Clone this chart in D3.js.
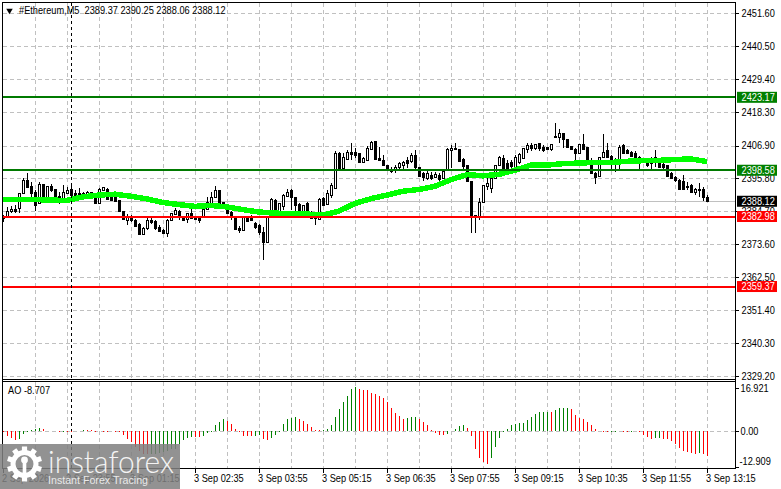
<!DOCTYPE html>
<html>
<head>
<meta charset="utf-8">
<script src="https://cdn.jsdelivr.net/npm/d3@7"></script>
<style>
  html, body { margin: 0; padding: 0; background: #fff; }
  svg { display: block; }
  text { font-family: "Liberation Sans", sans-serif; font-size: 10.6px; fill: #000; white-space: pre; }
</style>
</head>
<body>
<div id="chart"></div>
<script>
var title = "#Ethereum,M5  2389.37 2390.25 2388.06 2388.12"
var aoTitle = "AO -8.707"

// candles, 5 minute bars
var opens = [2383.1,2383.1,2384.8,2385.4,2385.8,2390.8,2395.2,2393.2,2391.2,2387.5,2393.9,2389.2,2393.2,2392.2,2389.8,2389.2,
  2390.8,2392.2,2390.8,2390.8,2390.8,2390.2,2391.2,2389.5,2387.5,2391.8,2392.2,2390.8,2390.8,2388.5,2384.8,2381.7,
  2383.1,2381.7,2380.4,2377.0,2379.0,2381.7,2381.4,2379.4,2378.4,2377.4,2381.7,2383.8,2384.8,2382.7,2382.1,2384.1,
  2382.7,2382.4,2382.7,2385.4,2387.5,2389.5,2391.8,2387.8,2385.8,2384.4,2382.7,2379.0,2378.4,2382.7,2382.4,2380.7,
  2380.0,2377.7,2374.3,2384.4,2388.5,2384.4,2386.5,2389.8,2391.8,2389.5,2387.1,2384.4,2387.5,2384.4,2383.1,2382.1,
  2389.2,2387.1,2390.2,2392.5,2404.3,2399.3,2402.3,2404.6,2404.6,2404.3,2401.3,2401.9,2405.6,2408.3,2402.6,2401.9,
  2400.3,2398.9,2398.6,2399.6,2400.3,2401.9,2401.6,2403.6,2399.6,2397.6,2395.9,2396.9,2396.2,2396.9,2395.9,2398.6,
  2405.3,2406.0,2405.6,2402.3,2400.3,2394.9,2383.4,2383.1,2387.8,2393.2,2392.5,2395.9,2400.3,2402.6,2400.9,2401.3,
  2399.6,2401.3,2402.6,2405.6,2407.0,2406.0,2407.7,2406.3,2406.3,2405.6,2410.0,2409.7,2411.0,2409.0,2406.7,2405.6,
  2404.3,2407.3,2406.3,2401.9,2397.6,2396.6,2403.0,2405.3,2403.3,2402.3,2401.9,2407.0,2405.3,2404.6,2404.3,2403.0,
  2402.3,2401.3,2402.3,2403.0,2401.3,2400.6,2400.3,2397.6,2396.2,2395.2,2394.9,2393.2,2393.5,2391.2,2392.2,2392.2,2389.37]
var highs = [2383.4,2386.1,2386.5,2386.8,2390.8,2395.9,2397.6,2394.5,2391.8,2394.5,2393.9,2393.2,2393.9,2392.2,2391.2,2393.5,
  2392.9,2393.2,2391.8,2392.5,2391.2,2391.5,2391.2,2390.2,2392.5,2392.9,2392.5,2391.2,2391.2,2388.5,2384.8,2383.8,
  2383.4,2382.1,2380.7,2379.4,2382.7,2382.7,2381.7,2380.0,2378.7,2382.1,2384.1,2385.8,2385.1,2383.1,2384.1,2385.4,
  2382.7,2382.7,2385.4,2389.5,2391.2,2393.2,2391.8,2387.8,2386.5,2384.8,2383.1,2379.7,2382.7,2383.1,2383.4,2381.1,
  2380.4,2379.4,2383.1,2389.2,2388.8,2387.5,2390.5,2392.2,2392.2,2389.5,2387.5,2386.8,2387.8,2384.8,2383.8,2389.2,
  2389.5,2391.8,2394.2,2405.0,2404.6,2404.3,2405.3,2407.7,2406.0,2404.3,2403.0,2406.7,2408.3,2408.3,2406.3,2403.6,
  2400.3,2399.6,2400.3,2401.3,2401.6,2403.0,2404.3,2405.3,2399.6,2397.9,2398.2,2397.9,2397.9,2397.6,2398.6,2406.0,
  2407.0,2407.7,2405.6,2402.6,2400.3,2394.9,2383.4,2389.2,2393.5,2395.9,2396.9,2400.3,2403.3,2403.6,2401.9,2401.9,
  2403.6,2404.3,2406.0,2407.7,2407.7,2407.3,2407.7,2407.0,2406.3,2407.3,2414.4,2412.4,2411.0,2409.0,2406.7,2406.0,
  2407.3,2410.7,2406.3,2402.6,2397.9,2403.0,2410.7,2407.7,2403.6,2402.6,2407.0,2407.3,2405.6,2405.0,2405.0,2403.3,
  2402.6,2401.9,2403.0,2405.3,2401.9,2401.9,2400.3,2397.9,2396.6,2395.5,2396.9,2394.5,2393.9,2392.5,2394.2,2392.9,2390.25]
var lows = [2381.1,2382.7,2384.1,2384.1,2384.1,2390.5,2392.5,2389.5,2384.8,2387.1,2389.2,2388.8,2391.2,2388.1,2387.1,2388.5,
  2390.5,2389.5,2389.5,2390.2,2389.8,2389.8,2389.8,2387.1,2387.1,2391.5,2388.5,2388.1,2388.1,2384.4,2381.7,2380.0,
  2381.1,2379.4,2376.7,2376.7,2378.4,2380.4,2378.4,2377.7,2377.0,2376.0,2381.4,2383.4,2381.7,2381.4,2380.7,2382.1,
  2381.7,2380.7,2382.4,2385.1,2387.1,2389.2,2387.5,2385.8,2383.8,2381.7,2378.4,2377.4,2378.0,2381.1,2381.4,2378.7,
  2376.7,2368.3,2374.3,2382.4,2382.4,2383.8,2385.1,2389.5,2385.1,2384.1,2384.1,2382.7,2383.8,2382.1,2380.0,2381.7,
  2386.8,2386.8,2389.2,2392.2,2398.6,2398.6,2401.9,2401.9,2402.6,2400.9,2400.9,2401.6,2405.3,2401.9,2401.6,2399.9,
  2398.6,2397.6,2397.6,2398.6,2398.6,2399.3,2400.9,2398.6,2396.2,2394.9,2395.2,2395.2,2395.9,2394.9,2395.5,2398.2,
  2399.3,2405.3,2401.3,2398.9,2394.9,2377.4,2377.4,2381.7,2387.5,2391.8,2390.8,2395.5,2399.9,2398.6,2398.6,2399.3,
  2399.3,2400.6,2402.3,2404.3,2405.0,2405.3,2405.0,2404.6,2405.3,2405.0,2409.4,2407.7,2406.0,2406.3,2405.3,2401.9,
  2404.0,2405.3,2401.6,2397.2,2393.9,2396.2,2402.6,2402.6,2398.9,2397.9,2398.9,2404.0,2404.0,2403.0,2402.3,2398.9,
  2401.3,2399.6,2398.9,2399.6,2399.3,2398.9,2396.2,2395.5,2394.5,2391.8,2391.8,2391.8,2390.8,2390.2,2389.5,2388.1,2388.06]
var closes = [2382.4,2384.8,2385.4,2384.8,2390.8,2395.2,2392.9,2390.8,2386.8,2393.9,2389.5,2393.2,2391.8,2388.5,2388.8,2391.2,
  2391.8,2390.2,2390.2,2390.6,2390.2,2391.2,2390.2,2387.5,2392.2,2392.9,2388.8,2388.5,2388.1,2384.8,2382.1,2383.1,
  2381.7,2379.7,2377.0,2379.0,2381.7,2381.1,2379.0,2378.0,2377.4,2381.7,2384.1,2385.1,2382.7,2381.7,2384.1,2382.4,
  2382.1,2381.7,2385.4,2387.8,2389.5,2391.8,2387.5,2386.1,2384.1,2382.7,2378.7,2378.4,2382.7,2381.4,2381.7,2379.4,
  2377.7,2374.3,2382.7,2388.8,2384.4,2387.5,2390.2,2391.2,2389.5,2386.8,2384.4,2386.8,2384.1,2382.4,2382.4,2388.8,
  2386.8,2390.8,2393.5,2404.3,2399.3,2403.0,2404.6,2404.0,2403.6,2401.3,2402.6,2406.0,2408.0,2402.3,2401.9,2400.3,
  2398.9,2398.2,2399.6,2400.9,2401.3,2400.9,2403.6,2399.6,2396.6,2396.2,2397.6,2395.9,2397.2,2395.5,2398.2,2405.6,
  2406.0,2405.6,2401.6,2399.9,2394.9,2383.1,2383.1,2387.8,2393.5,2394.2,2395.9,2400.3,2403.0,2399.3,2399.3,2399.9,
  2403.0,2404.0,2406.0,2407.0,2406.0,2407.3,2406.0,2405.3,2405.6,2407.3,2409.7,2411.0,2409.0,2406.3,2405.6,2404.3,
  2407.3,2405.6,2401.9,2397.6,2396.2,2403.0,2404.6,2403.0,2401.9,2401.6,2406.3,2404.3,2404.3,2403.3,2402.6,2401.9,
  2401.6,2400.3,2400.9,2401.9,2399.6,2399.6,2396.6,2395.9,2395.2,2392.2,2392.2,2392.9,2391.2,2392.2,2391.8,2389.5,2388.12]

// moving average, one reading every fourth candle
var maValues = [2388.7,2388.7,2388.7,2388.5,2388.4,2389.6,2390.2,2390.5,2389.8,2388.9,2387.7,2387.0,2386.4,2386.7,2386.2,2385.3,2384.5,
  2384.1,2384.0,2383.8,2383.4,2384.8,2387.4,2389.0,2390.2,2391.5,2392.1,2393.2,2395.4,2397.1,2396.7,2397.2,2398.6,
  2400.3,2400.3,2400.8,2401.0,2401.2,2401.2,2401.6,2401.8,2401.9,2402.2,2402.4,2401.5]

// awesome oscillator
var aoValues = [-0.4,-1.8,-2.8,-3.3,-3.0,-1.0,-0.3,0.5,0.9,1.2,0.8,0.0,0.3,0.0,-0.2,-0.1,-0.1,-0.2,0.2,0.3,0.4,0.4,0.35,-0.1,0.0,-0.1,-0.1,0.0,-0.1,-0.1,
  -1.4,-3.0,-4.1,-6.0,-7.7,-8.8,-9.05,-8.95,-8.9,-8.7,-8.2,-7.9,-7.1,-6.8,-4.9,-3.6,-2.5,-2.1,-2.2,-2.25,-1.7,-0.8,-0.4,2.3,3.8,4.7,4.1,2.8,0.9,-0.4,-1.7,-1.85,-1.9,-1.7,-1.45,
  -3.0,-3.4,-2.5,-1.4,-0.1,2.9,4.7,5.4,5.45,4.9,4.2,2.9,1.7,0.5,0.45,0.55,0.9,2.5,5.6,8.8,11.7,13.9,16.7,17.45,16.8,16.4,16.1,15.1,14.6,13.9,13.1,11.7,9.3,7.3,5.9,4.9,5.4,5.6,5.65,5.0,3.8,2.5,0.5,-0.7,-1.3,-1.45,-0.9,0.0,0.8,2.1,2.4,1.3,-1.7,-7.0,-10.4,-12.1,-12.9,-10.4,-6.0,-2.5,-0.1,1.05,2.5,3.0,3.15,
  3.3,4.5,5.6,6.8,7.5,7.6,7.75,7.6,8.4,9.05,9.2,9.3,8.8,6.4,5.2,4.9,3.8,2.5,1.05,0.1,-0.1,-0.4,-0.2,-0.1,-0.05,-0.1,-0.4,-0.1,-0.05,-0.1,-1.4,-2.2,-3.0,-2.8,-2.7,-2.9,-3.0,-3.8,-4.9,-6.6,-7.6,-8.3,-8.6,-8.8,-8.6,-9.0,-9.8]

var priceTicks = [2451.60,2440.50,2429.40,2418.30,2406.90,2395.80,2384.70,2373.60,2362.50,2351.40,2340.30,2329.20]
var aoTicks = [16.921,0,-12.909]
var greenLevels = [2423.17,2398.58]
var redLevels = [2382.98,2359.37]
var lastPrice = 2388.12

var timeLabels = ["2 Sep 2026","2 Sep 23:55","3 Sep 01:15","3 Sep 02:35","3 Sep 03:55","3 Sep 05:15","3 Sep 06:35","3 Sep 07:55","3 Sep 09:15","3 Sep 10:35","3 Sep 11:55","3 Sep 13:15"]

var width = 781, height = 489
var startTime = new Date(2026, 8, 2, 22, 35)
var stepMs = 5 * 60 * 1000
var timeOf = i => new Date(+startTime + i * stepMs)

var svg = d3.select("#chart").append("svg")
  .attr("width", width).attr("height", height)

var x = d3.scaleTime().domain([startTime, timeOf(176)]).range([3, 707])
var y = d3.scaleLinear().domain([2451.6, 2329.2]).range([13, 376])
var yAo = d3.scaleLinear().domain([16.921, -12.909]).range([388.3, 464.1])
var px = v => Math.round(v) + .5

var right = 735.5, frameTop = 2.5, mainBottom = 379.5, aoTop = 381.5, aoBottom = 468.5

// grid
var grid = svg.append("g").attr("stroke", "#c0c0c0").attr("fill", "none")
  .attr("stroke-dasharray", "4,3").attr("shape-rendering", "crispEdges")
var gridTimes = d3.range(8, 177, 8).map(timeOf)
grid.selectAll(".v").data(gridTimes).join("line").attr("class", "v")
  .attr("x1", d => px(x(d))).attr("x2", d => px(x(d)))
  .attr("y1", frameTop).attr("y2", mainBottom)
grid.selectAll(".va").data(gridTimes).join("line").attr("class", "va")
  .attr("x1", d => px(x(d))).attr("x2", d => px(x(d)))
  .attr("y1", aoTop).attr("y2", aoBottom)
grid.selectAll(".h").data(priceTicks).join("line").attr("class", "h")
  .attr("x1", 3).attr("x2", right)
  .attr("y1", d => px(y(d))).attr("y2", d => px(y(d)))
grid.append("line").attr("x1", 3).attr("x2", right).attr("y1", px(yAo(0))).attr("y2", px(yAo(0)))

// last price line
svg.append("line").attr("x1", 3).attr("x2", right)
  .attr("y1", px(y(lastPrice))).attr("y2", px(y(lastPrice)))
  .attr("stroke", "#c0c0c0").attr("shape-rendering", "crispEdges")

// candles
var candles = svg.append("g").attr("shape-rendering", "crispEdges")
  .selectAll("g").data(opens).join("g")
candles.append("line")
  .attr("x1", (d, i) => px(x(timeOf(i)))).attr("x2", (d, i) => px(x(timeOf(i))))
  .attr("y1", (d, i) => y(highs[i])).attr("y2", (d, i) => y(lows[i]))
  .attr("stroke", "#000")
candles.append("rect")
  .attr("x", (d, i) => px(x(timeOf(i))) - 1).attr("width", 2)
  .attr("y", (d, i) => y(Math.max(opens[i], closes[i])))
  .attr("height", (d, i) => Math.max(1, Math.abs(y(opens[i]) - y(closes[i]))))
  .attr("fill", (d, i) => closes[i] >= opens[i] ? "#fff" : "#000")
  .attr("stroke", "#000")

// moving average
var maLine = d3.line().x((d, i) => x(timeOf(i * 4))).y(d => y(d))
svg.append("path").datum(maValues).attr("d", maLine)
  .attr("fill", "none").attr("stroke", "#00ff00").attr("stroke-width", 5.5)
  .attr("shape-rendering", "crispEdges")

// level lines
svg.selectAll(".green").data(greenLevels).join("line").attr("class", "green")
  .attr("x1", 3).attr("x2", right).attr("y1", d => Math.round(y(d))).attr("y2", d => Math.round(y(d)))
  .attr("stroke", "#007a00").attr("stroke-width", 2)
svg.selectAll(".red").data(redLevels).join("line").attr("class", "red")
  .attr("x1", 3).attr("x2", right).attr("y1", d => Math.round(y(d))).attr("y2", d => Math.round(y(d)))
  .attr("stroke", "#ff0000").attr("stroke-width", 2)

// black dashed vertical
svg.append("line").attr("x1", 71.5).attr("x2", 71.5).attr("y1", frameTop).attr("y2", aoBottom)
  .attr("stroke", "#000").attr("stroke-dasharray", "3,3").attr("shape-rendering", "crispEdges")

// AO bars
svg.append("g").attr("shape-rendering", "crispEdges").selectAll("line").data(aoValues).join("line")
  .attr("x1", (d, i) => px(x(timeOf(i)))).attr("x2", (d, i) => px(x(timeOf(i))))
  .attr("y1", yAo(0)).attr("y2", d => yAo(d))
  .attr("stroke", (d, i) => i > 0 && d > aoValues[i - 1] ? "#008000" : "#ff0000")

// frames
var frame = svg.append("g").attr("stroke", "#000").attr("shape-rendering", "crispEdges")
frame.append("line").attr("x1", 2.5).attr("x2", 2.5).attr("y1", frameTop).attr("y2", aoBottom)
frame.append("line").attr("x1", right).attr("x2", right).attr("y1", frameTop).attr("y2", aoBottom)
frame.append("line").attr("x1", 2).attr("x2", right).attr("y1", frameTop).attr("y2", frameTop)
frame.append("line").attr("x1", 2).attr("x2", right).attr("y1", mainBottom).attr("y2", mainBottom)
frame.append("line").attr("x1", 2).attr("x2", right).attr("y1", aoTop).attr("y2", aoTop)
frame.append("line").attr("x1", 2).attr("x2", right).attr("y1", aoBottom).attr("y2", aoBottom)

// right axes
svg.append("g").selectAll("line").data(priceTicks).join("line")
  .attr("x1", right).attr("x2", right + 3)
  .attr("y1", d => px(y(d))).attr("y2", d => px(y(d)))
  .attr("stroke", "#000").attr("shape-rendering", "crispEdges")
svg.append("g").selectAll("text").data(priceTicks).join("text")
  .attr("x", 741.5).attr("y", d => y(d)).attr("dy", "0.36em")
  .text(d => d.toFixed(2))
svg.append("g").selectAll("line").data(aoTicks).join("line")
  .attr("x1", right).attr("x2", right + 3)
  .attr("y1", d => d < -12 ? 467.5 : px(yAo(d))).attr("y2", d => d < -12 ? 467.5 : px(yAo(d)))
  .attr("stroke", "#000").attr("shape-rendering", "crispEdges")
svg.append("g").selectAll("text").data(aoTicks).join("text")
  .attr("x", d => d < 0 ? 739.5 : 740.5).attr("y", d => d < -12 ? yAo(d) - 2.5 : yAo(d)).attr("dy", "0.36em")
  .text(d => d == 0 ? "0.00" : d.toFixed(3))

// level tags
var tags = greenLevels.map(d => ({v: d, c: "#008000"}))
  .concat(redLevels.map(d => ({v: d, c: "#ff0000"})))
  .concat([{v: lastPrice, c: "#000"}])
var tag = svg.append("g").selectAll("g").data(tags).join("g")
tag.append("rect").attr("x", 737).attr("width", 40).attr("y", d => y(d.v) - 5.5).attr("height", 11)
  .attr("fill", d => d.c)
tag.append("text").attr("x", 741.5).attr("y", d => y(d.v)).attr("dy", "0.36em")
  .style("fill", "#fff").text(d => d.v.toFixed(2))

// time axis
var labelAt = timeLabels.map((d, i) => ({t: d, at: timeOf(i * 16)}))
svg.append("g").selectAll("line").data(labelAt).join("line")
  .attr("x1", d => px(x(d.at))).attr("x2", d => px(x(d.at)))
  .attr("y1", aoBottom).attr("y2", aoBottom + 4)
  .attr("stroke", "#000").attr("shape-rendering", "crispEdges")
svg.append("g").selectAll("text").data(labelAt).join("text")
  .attr("x", d => x(d.at) - 1).attr("y", 481.5)
  .text(d => d.t)

// titles
svg.append("path").attr("d", d3.symbol().type(d3.symbolTriangle).size(18))
  .attr("transform", "translate(9.5,10.5) rotate(180)").attr("fill", "#000")
svg.append("text").attr("x", 19).attr("y", 14).text(title)
svg.append("text").attr("x", 8).attr("y", 394).text(aoTitle)

// terminal font is narrower than anything installed, squeeze the glyphs
svg.selectAll("text").each(function () {
  d3.select(this).attr("textLength", this.getComputedTextLength() * 0.87).attr("lengthAdjust", "spacingAndGlyphs")
})

// watermark
var wm = svg.append("g")
wm.append("rect").attr("x", 0).attr("y", 444).attr("width", 180).attr("height", 45)
  .attr("fill", "#808080").attr("opacity", 0.86)
var logo = wm.append("g").attr("transform", "translate(24.5,464)").attr("fill", "#fff")
logo.append("path").attr("d", d3.arc().innerRadius(9).outerRadius(14).startAngle(0).endAngle(2 * Math.PI)())
logo.selectAll("rect").data(d3.range(0, 360, 36)).join("rect")
  .attr("x", -2.6).attr("y", -17.5).attr("width", 5.2).attr("height", 5)
  .attr("transform", d => "rotate(" + d + ")")
logo.append("circle").attr("cx", 0).attr("cy", -4).attr("r", 3.4)
logo.append("rect").attr("x", -1.8).attr("y", -2).attr("width", 3.6).attr("height", 13)
wm.append("text").attr("x", 48).attr("y", 473)
  .attr("textLength", 126).attr("lengthAdjust", "spacingAndGlyphs")
  .style("font-size", "31px").style("font-family", "Lato").style("font-weight", 300).style("fill", "#f4f4f4").text("instaforex")
wm.append("text").attr("x", 48).attr("y", 484)
  .attr("textLength", 100).attr("lengthAdjust", "spacingAndGlyphs")
  .style("font-size", "11px").style("fill", "#e8e8e8").text("Instant Forex Tracing")
</script>
</body>
</html>
